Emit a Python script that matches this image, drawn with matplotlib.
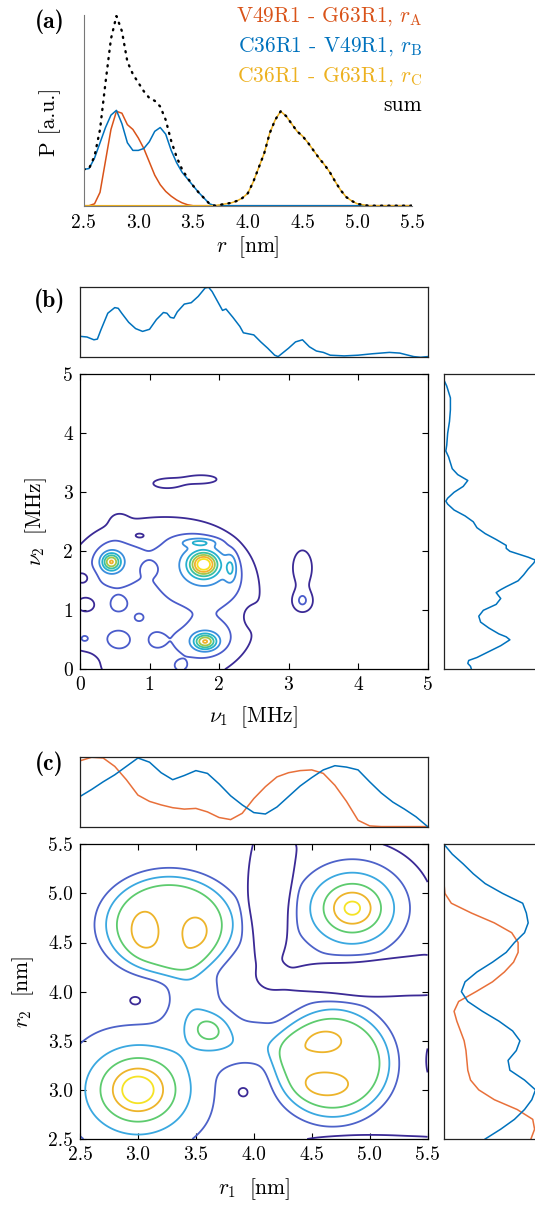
import numpy as np
import matplotlib
matplotlib.use("Agg")
import matplotlib.pyplot as plt

plt.rcParams['font.family'] = 'cmr10'
plt.rcParams['mathtext.fontset'] = 'cm'
plt.rcParams['axes.unicode_minus'] = False
plt.rcParams['axes.formatter.use_mathtext'] = True

RED = '#D95319'
BLUE = '#0072BD'
YELLOW = '#EDB120'
RED_C = '#E8703A'

# ---------------- panel (a): distance distributions ----------------
r_a = [2.50, 2.55, 2.60, 2.65, 2.70, 2.75, 2.80, 2.85, 2.90, 2.95,
       3.00, 3.05, 3.10, 3.15, 3.20, 3.25, 3.30, 3.35, 3.40, 3.45,
       3.50, 3.55, 3.60, 3.65, 3.70, 3.75, 3.80, 3.85, 3.90, 3.95,
       4.00, 4.05, 4.10, 4.15, 4.20, 4.25, 4.30, 4.35, 4.40, 4.45,
       4.50, 4.55, 4.60, 4.65, 4.70, 4.75, 4.80, 4.85, 4.90, 4.95,
       5.00, 5.05, 5.10, 5.15, 5.20, 5.25, 5.30, 5.35, 5.40, 5.45, 5.50]
p_A = [0.00, 0.00, 0.02, 0.14, 0.47, 0.80, 0.99, 0.97, 0.85, 0.80,
       0.71, 0.60, 0.46, 0.32, 0.22, 0.15, 0.10, 0.06, 0.03, 0.01,
       0.00, 0.00, 0.00, 0.00, 0.00, 0.00, 0.00, 0.00, 0.00, 0.00,
       0.00, 0.00, 0.00, 0.00, 0.00, 0.00, 0.00, 0.00, 0.00, 0.00,
       0.00, 0.00, 0.00, 0.00, 0.00, 0.00, 0.00, 0.00, 0.00, 0.00,
       0.00, 0.00, 0.00, 0.00, 0.00, 0.00, 0.00, 0.00, 0.00, 0.00, 0.00]
p_B = [0.38, 0.39, 0.50, 0.66, 0.82, 0.95, 1.00, 0.86, 0.66, 0.58,
       0.58, 0.60, 0.67, 0.78, 0.82, 0.75, 0.58, 0.45, 0.35, 0.28,
       0.21, 0.14, 0.08, 0.02, 0.00, 0.00, 0.00, 0.00, 0.00, 0.00,
       0.00, 0.00, 0.00, 0.00, 0.00, 0.00, 0.00, 0.00, 0.00, 0.00,
       0.00, 0.00, 0.00, 0.00, 0.00, 0.00, 0.00, 0.00, 0.00, 0.00,
       0.00, 0.00, 0.00, 0.00, 0.00, 0.00, 0.00, 0.00, 0.00, 0.00, 0.00]
p_C = [0.00, 0.00, 0.00, 0.00, 0.00, 0.00, 0.00, 0.00, 0.00, 0.00,
       0.00, 0.00, 0.00, 0.00, 0.00, 0.00, 0.00, 0.00, 0.00, 0.00,
       0.00, 0.00, 0.00, 0.00, 0.00, 0.01, 0.02, 0.03, 0.05, 0.08,
       0.13, 0.25, 0.40, 0.55, 0.76, 0.90, 0.99, 0.94, 0.86, 0.78,
       0.73, 0.66, 0.58, 0.50, 0.43, 0.35, 0.25, 0.16, 0.09, 0.05,
       0.02, 0.01, 0.00, 0.00, 0.00, 0.00, 0.00, 0.00, 0.00, 0.00, 0.00]
legend_a = ['V49R1 - G63R1, $r_\\mathrm{A}$', 'C36R1 - V49R1, $r_\\mathrm{B}$',
            'C36R1 - G63R1, $r_\\mathrm{C}$', 'sum']

# ---------------- panel (b): frequency correlation ----------------
nu1_top = [0.0, 0.1, 0.2, 0.25, 0.3, 0.4, 0.5, 0.55, 0.6, 0.7, 0.8, 0.9, 1.0,
           1.1, 1.2, 1.25, 1.3, 1.35, 1.4, 1.5, 1.6, 1.7, 1.8, 1.85, 1.9, 2.0,
           2.05, 2.1, 2.2, 2.3, 2.35, 2.4, 2.5, 2.6, 2.7, 2.8, 2.85, 2.9, 3.0,
           3.1, 3.2, 3.3, 3.4, 3.5, 3.6, 3.8, 4.0, 4.2, 4.45, 4.6, 4.8, 4.9, 5.0]
p_nu1 = [0.30, 0.29, 0.25, 0.26, 0.39, 0.63, 0.71, 0.70, 0.63, 0.50, 0.41, 0.37, 0.40,
         0.54, 0.64, 0.63, 0.57, 0.56, 0.65, 0.76, 0.78, 0.87, 0.99, 1.00, 0.94, 0.76,
         0.67, 0.69, 0.57, 0.44, 0.35, 0.34, 0.32, 0.22, 0.13, 0.03, 0.01, 0.05, 0.13,
         0.22, 0.25, 0.15, 0.09, 0.07, 0.03, 0.02, 0.03, 0.05, 0.07, 0.06, 0.01, 0.00, 0.01]
nu2_right = [0.0, 0.05, 0.1, 0.15, 0.2, 0.3, 0.4, 0.5, 0.55, 0.6, 0.7, 0.8, 0.9, 1.0,
             1.1, 1.2, 1.3, 1.35, 1.4, 1.5, 1.6, 1.7, 1.8, 1.85, 1.9, 2.0, 2.05, 2.1,
             2.2, 2.3, 2.4, 2.5, 2.6, 2.7, 2.8, 2.85, 2.9, 3.0, 3.1, 3.2, 3.3, 3.4,
             3.5, 3.6, 3.7, 3.8, 4.0, 4.2, 4.4, 4.6, 4.8, 4.9, 5.0]
p_nu2 = [0.30, 0.29, 0.26, 0.27, 0.36, 0.49, 0.62, 0.72, 0.68, 0.60, 0.49, 0.40, 0.38, 0.43,
         0.57, 0.62, 0.57, 0.62, 0.68, 0.81, 0.87, 0.92, 0.98, 1.00, 0.92, 0.72, 0.68, 0.68,
         0.57, 0.45, 0.36, 0.32, 0.23, 0.11, 0.04, 0.02, 0.04, 0.11, 0.21, 0.26, 0.15, 0.09,
         0.07, 0.05, 0.02, 0.03, 0.04, 0.06, 0.07, 0.07, 0.03, 0.00, 0.00]
# features of the 2D frequency map: nu1, nu2, height, width1, width2, shape exponent
b_nu1 = [1.10, 1.78, 1.78, 0.45, 0.50, 1.80, 1.80, 2.17, 1.72,
         1.25, 1.75, 3.20, 3.20,
         0.55, 0.55, 1.10, 0.05, 0.45, 1.45, 0.85, 0.55,
         0.05, 0.10, 1.00, 0.05, 1.30, 2.45, 0.85]
b_nu2 = [1.10, 1.78, 1.75, 1.82, 1.85, 0.47, 0.50, 1.72, 2.15,
         3.15, 3.22, 1.72, 1.15,
         1.10, 0.50, 0.50, 0.50, 0.05, 0.05, 0.88, 2.55,
         1.55, 1.10, 1.70, 0.05, 0.85, 0.90, 2.25]
b_amp = [0.17, 0.60, 0.17, 0.45, 0.10, 0.45, 0.10, 0.17, 0.17,
         0.16, 0.16, 0.19, 0.20,
         0.06, 0.07, 0.06, 0.06, 0.06, 0.06, 0.05, 0.07,
         -0.09, -0.09, -0.08, -0.10, -0.07, -0.08, -0.08]
b_sx = [1.45, 0.13, 0.40, 0.09, 0.25, 0.11, 0.30, 0.06, 0.17,
        0.20, 0.22, 0.12, 0.12,
        0.10, 0.13, 0.09, 0.10, 0.08, 0.08, 0.06, 0.10,
        0.10, 0.15, 0.07, 0.20, 0.12, 0.10, 0.15]
b_sy = [1.45, 0.13, 0.40, 0.10, 0.30, 0.09, 0.22, 0.17, 0.05,
        0.08, 0.07, 0.26, 0.15,
        0.10, 0.12, 0.10, 0.10, 0.08, 0.08, 0.06, 0.10,
        0.10, 0.15, 0.07, 0.20, 0.10, 0.15, 0.08]
b_pow = [8, 2, 2, 2, 2, 2, 2, 2, 2,
         2, 2, 2, 2,
         2, 2, 2, 2, 2, 2, 2, 2,
         2, 2, 2, 2, 2, 2, 2]
b_levels = [0.10, 0.20, 0.30, 0.40, 0.50, 0.60, 0.70, 0.80]
b_colors = ['#3B2A96', '#4A5CCB', '#3A8EDD', '#25B0CF', '#3BC1A0', '#A3C64A', '#F2B12E', '#F7E01F']

# ---------------- panel (c): distance correlation ----------------
r_c = [2.5, 2.6, 2.7, 2.8, 2.9, 3.0, 3.1, 3.2, 3.3, 3.4, 3.5, 3.6, 3.7, 3.8, 3.9,
       4.0, 4.1, 4.2, 4.3, 4.4, 4.5, 4.6, 4.7, 4.8, 4.9, 5.0, 5.1, 5.2, 5.3, 5.4, 5.5]
top_blue = [0.44, 0.54, 0.65, 0.75, 0.87, 0.99, 0.93, 0.78, 0.68, 0.74, 0.81, 0.77, 0.62, 0.45, 0.32,
            0.21, 0.19, 0.29, 0.44, 0.59, 0.71, 0.82, 0.88, 0.86, 0.82, 0.65, 0.49, 0.36, 0.26, 0.15, 0.01]
top_red = [0.95, 1.00, 0.99, 0.87, 0.68, 0.46, 0.37, 0.32, 0.28, 0.26, 0.27, 0.22, 0.14, 0.11, 0.20,
           0.41, 0.58, 0.72, 0.78, 0.81, 0.82, 0.77, 0.60, 0.37, 0.10, 0.02, 0.01, 0.01, 0.01, 0.01, 0.01]
right_blue = [0.45, 0.62, 0.77, 0.88, 0.96, 1.00, 0.88, 0.72, 0.70, 0.79, 0.83, 0.75, 0.60, 0.42, 0.26,
              0.19, 0.23, 0.36, 0.53, 0.68, 0.77, 0.88, 0.92, 0.90, 0.86, 0.64, 0.45, 0.32, 0.21, 0.09, 0.00]
right_red = [0.95, 0.99, 0.97, 0.80, 0.55, 0.38, 0.29, 0.26, 0.25, 0.24, 0.22, 0.18, 0.14, 0.11, 0.16,
             0.35, 0.53, 0.66, 0.76, 0.81, 0.81, 0.74, 0.55, 0.30, 0.08, 0.01, 0.00, 0.00, 0.00, 0.00, 0.00]
c_floor = 0.17
# features of the 2D distance map: r1, r2, height, width1, width2, shape exponent
c_r1 = [3.00, 3.00, 4.85, 4.85, 3.27, 3.05, 3.50, 4.68, 4.62, 4.62,
        3.62, 3.45, 3.95, 5.00, 4.13, 5.00, 2.95, 3.92, 2.98, 3.90, 5.00, 5.55, 4.15]
c_r2 = [3.00, 3.00, 4.85, 4.85, 4.68, 4.62, 4.62, 3.27, 3.05, 3.50,
        3.62, 3.95, 3.45, 5.00, 5.00, 4.13, 3.92, 2.95, 3.90, 2.98, 2.45, 3.30, 4.15]
c_amp = [0.41, 0.15, 0.44, 0.15, 0.30, 0.10, 0.10, 0.30, 0.10, 0.10,
         0.20, 0.12, 0.12, -0.13, -0.10, -0.10, -0.06, -0.06, -0.03, -0.03, -0.10, -0.08, -0.04]
c_sx = [0.30, 0.10, 0.35, 0.12, 0.50, 0.08, 0.065, 0.45, 0.13, 0.085,
        0.12, 0.15, 0.30, 0.85, 0.20, 0.80, 0.30, 0.12, 0.04, 0.04, 0.70, 0.12, 0.20]
c_sy = [0.30, 0.10, 0.35, 0.12, 0.45, 0.13, 0.085, 0.50, 0.08, 0.065,
        0.12, 0.30, 0.15, 0.85, 0.80, 0.20, 0.12, 0.30, 0.04, 0.04, 0.10, 0.40, 0.20]
c_pow = [2, 2, 2, 2, 6, 2, 2, 6, 2, 2,
         2, 2, 2, 8, 6, 6, 2, 2, 2, 2, 4, 2, 2]
c_levels = [0.10, 0.20, 0.30, 0.40, 0.50, 0.60]
c_colors = ['#3B2A96', '#4D62C9', '#3AA8E0', '#5DCB6E', '#EDB42A', '#F5E325']


def density(xg, yg, x0, y0, amp, sx, sy, pw, floor=0.0):
    X, Y = np.meshgrid(xg, yg)
    Z = np.full_like(X, floor)
    for a, b, h, wx, wy, p in zip(x0, y0, amp, sx, sy, pw):
        u = ((X - a) / wx) ** 2 + ((Y - b) / wy) ** 2
        Z += h * np.exp(-0.5 * u ** (p / 2))
    return X, Y, Z


W, H = 535, 1205
fig = plt.figure(figsize=(W / 100, H / 100), dpi=100)


def add_ax(x0, y0, x1, y1):
    # pixel box (top-left origin) -> figure axes
    return fig.add_axes([x0 / W, (H - y1) / H, (x1 - x0) / W, (y1 - y0) / H])


# ---- (a)
ax = add_ax(83.6, 15, 412, 205.7)
ax.plot(r_a, p_A, color=RED, lw=1.1)
ax.plot(r_a, p_B, color=BLUE, lw=1.1)
ax.plot(r_a, p_C, color=YELLOW, lw=1.1)
p_sum = np.array(p_A) + np.array(p_B) + np.array(p_C)
ax.plot(r_a, p_sum, color='black', lw=1.7, linestyle=(0, (0.5, 2.6)), dash_capstyle='round')
ax.set_xlim(2.5, 5.5)
ax.set_ylim(0, 2.0)
ax.set_xticks([2.5, 3.0, 3.5, 4.0, 4.5, 5.0, 5.5])
ax.set_xticklabels(['2.5', '3.0', '3.5', '4.0', '4.5', '5.0', '5.5'])
ax.set_yticks([])
ax.tick_params(axis='x', length=0, labelsize=14, pad=6)
for s in ['top', 'right']:
    ax.spines[s].set_visible(False)
ax.spines['left'].set_color('#777777')
ax.spines['bottom'].set_color('#777777')
ax.set_xlabel('$r\\;$ [nm]', fontsize=15.5, labelpad=2)
ax.set_ylabel('P [a.u.]', fontsize=15.5)
ax.yaxis.set_label_coords(-0.07, 0.44)
for txt, col, yy in zip(legend_a, [RED, BLUE, YELLOW, 'black'], [17, 47, 77, 105]):
    fig.text(422 / W, 1 - yy / H, txt, color=col, fontsize=15.5, ha='right', va='center')
fig.text(49.5 / W, 1 - 22 / H, '(a)', fontsize=17, family='cmb10', ha='center', va='center')


def marginal_style(m):
    m.set_xticks([])
    m.set_yticks([])
    for s in m.spines.values():
        s.set_color('#222222')
        s.set_linewidth(0.9)


def main_style(m, ticks, labels):
    m.set_xticks(ticks)
    m.set_yticks(ticks)
    m.set_xticklabels(labels)
    m.set_yticklabels(labels)
    m.tick_params(direction='in', top=True, right=True, length=4, width=0.8,
                  labelsize=14, pad=5)
    for s in m.spines.values():
        s.set_linewidth(0.9)


# ---- (b)
axt = add_ax(80, 287.3, 427.6, 357.3)
axt.plot(nu1_top, p_nu1, color=BLUE, lw=1.1)
axt.set_xlim(0, 5)
axt.set_ylim(0, 1.0)
marginal_style(axt)

axm = add_ax(80, 374.3, 427.6, 669.3)
Xb, Yb, Zb = density(np.linspace(0, 5, 401), np.linspace(0, 5, 401),
                     b_nu1, b_nu2, b_amp, b_sx, b_sy, b_pow)
axm.contour(Xb, Yb, Zb, levels=b_levels, colors=b_colors, linewidths=1.3)
axm.set_xlim(0, 5)
axm.set_ylim(0, 5)
main_style(axm, [0, 1, 2, 3, 4, 5], ['0', '1', '2', '3', '4', '5'])
axm.set_xlabel('$\\nu_1\\;$ [MHz]', fontsize=15.5, labelpad=7)
axm.set_ylabel('$\\nu_2\\;$ [MHz]', fontsize=15.5, labelpad=10)

axr = add_ax(444, 374.3, 535.5, 669.3)
axr.plot(p_nu2, nu2_right, color=BLUE, lw=1.1)
axr.set_ylim(0, 5)
axr.set_xlim(0, 1.0)
marginal_style(axr)
fig.text(49.5 / W, 1 - 301 / H, '(b)', fontsize=17, family='cmb10', ha='center', va='center')

# ---- (c)
axt2 = add_ax(80, 757.3, 427.6, 827.3)
axt2.plot(r_c, top_red, color=RED_C, lw=1.1)
axt2.plot(r_c, top_blue, color=BLUE, lw=1.1)
axt2.set_xlim(2.5, 5.5)
axt2.set_ylim(0, 1.0)
marginal_style(axt2)

axc = add_ax(80, 844.3, 427.6, 1139)
Xc, Yc, Zc = density(np.linspace(2.5, 5.5, 401), np.linspace(2.5, 5.5, 401),
                     c_r1, c_r2, c_amp, c_sx, c_sy, c_pow, floor=c_floor)
axc.contour(Xc, Yc, Zc, levels=c_levels, colors=c_colors, linewidths=1.3)
axc.set_xlim(2.5, 5.5)
axc.set_ylim(2.5, 5.5)
ct = [2.5, 3.0, 3.5, 4.0, 4.5, 5.0, 5.5]
main_style(axc, ct, ['2.5', '3.0', '3.5', '4.0', '4.5', '5.0', '5.5'])
axc.set_xlabel('$r_1\\;$ [nm]', fontsize=15.5, labelpad=9)
axc.set_ylabel('$r_2\\;$ [nm]', fontsize=15.5, labelpad=9)

axr2 = add_ax(444, 844.3, 535.5, 1139)
axr2.plot(right_red, r_c, color=RED_C, lw=1.1)
axr2.plot(right_blue, r_c, color=BLUE, lw=1.1)
axr2.set_ylim(2.5, 5.5)
axr2.set_xlim(0, 1.0)
marginal_style(axr2)
fig.text(49.5 / W, 1 - 764 / H, '(c)', fontsize=17, family='cmb10', ha='center', va='center')

fig.savefig('out.png', dpi=100)
